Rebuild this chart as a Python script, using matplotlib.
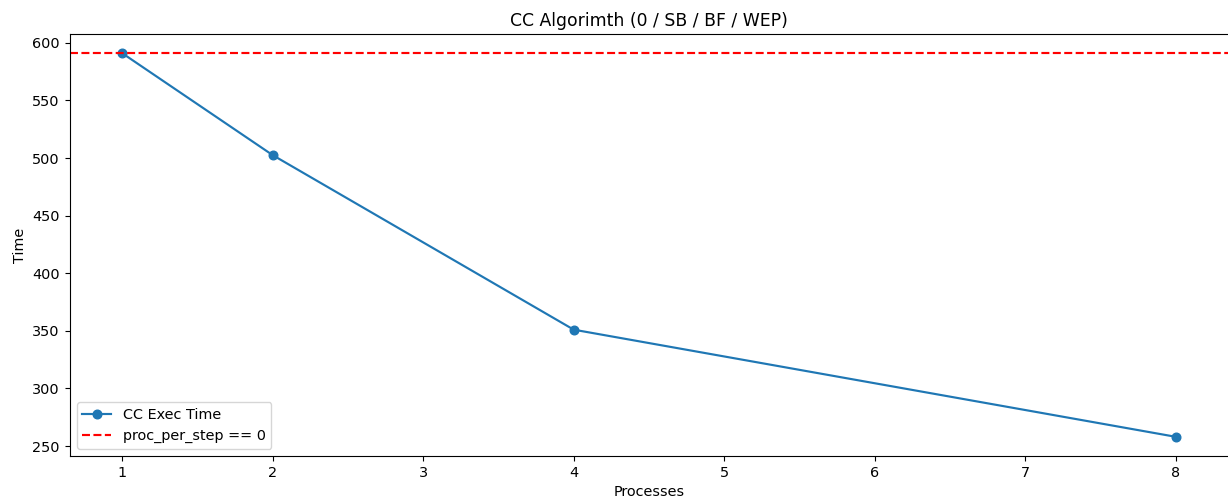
import matplotlib
matplotlib.use('Agg')
import matplotlib.pyplot as plt

# 原图比默认尺寸略大一点
s = 1.035
plt.rcParams['font.size'] = 10 * s
plt.rcParams['lines.linewidth'] = 1.5 * s
plt.rcParams['lines.markersize'] = 6 * s

# 数据
processes = [1, 2, 4, 8]
exec_time = [591, 502.5, 351, 258]
baseline = 591

fig = plt.figure(figsize=(12.28, 5.04), dpi=100)
ax = fig.add_axes([69.5 / 1228, 1 - 456 / 504, (1228.5 - 69.5) / 1228, (456 - 34) / 504])

ax.plot(processes, exec_time, marker='o', label='CC Exec Time')
ax.axhline(baseline, color='red', linestyle='--', label='proc_per_step == 0')

ax.set_xlabel('Processes')
ax.set_ylabel('Time')
ax.set_title('CC Algorimth (0 / SB / BF / WEP)')
ax.legend(loc='lower left')

fig.savefig('out.png', dpi=100)
